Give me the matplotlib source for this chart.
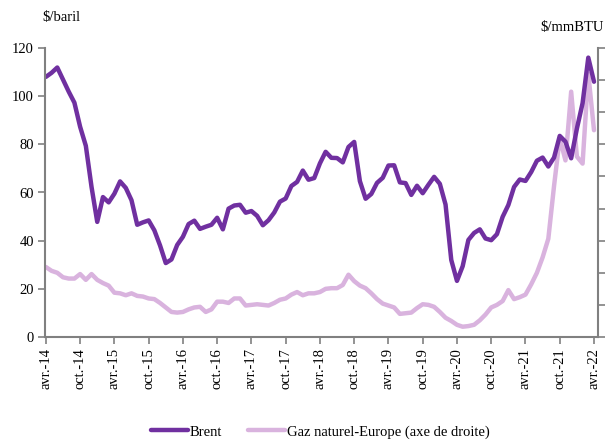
import matplotlib
matplotlib.use("Agg")
from matplotlib import pyplot as plt
import numpy as np

# monthly data, avr-14 .. avr-22
brent = [108.0, 109.7, 111.9, 106.9, 101.9, 97.3, 87.3, 79.4, 62.3,
         47.8, 58.1, 55.9, 59.5, 64.6, 61.9, 56.8, 46.6, 47.6, 48.4, 44.3, 38.0,
         30.7, 32.2, 38.2, 41.6, 46.9, 48.3, 44.9, 45.8, 46.6, 49.5, 44.7, 53.3,
         54.6, 54.9, 51.6, 52.3, 50.3, 46.4, 48.5, 51.7, 56.2, 57.5, 62.7, 64.4,
         69.1, 65.3, 66.0, 72.1, 76.9, 74.4, 74.3, 72.5, 78.9, 81.0, 64.7, 57.4,
         59.4, 64.0, 66.1, 71.2, 71.3, 64.2, 63.9, 59.0, 62.8, 59.7, 63.2, 66.5,
         63.6, 55.0, 32.0, 23.3, 29.4, 40.3, 43.2, 44.7, 40.9, 40.2, 42.7, 49.9,
         54.8, 62.3, 65.4, 64.8, 68.5, 73.2, 74.5, 70.8, 74.5, 83.5, 81.1, 74.2,
         86.5, 97.1, 116.0, 106.0]

gaz = [10.9, 10.3, 10.0, 9.3, 9.1, 9.1, 9.8, 8.9, 9.8,
       8.9, 8.4, 8.0, 6.9, 6.8, 6.5, 6.8, 6.4, 6.3, 6.0, 5.9, 5.3,
       4.6, 3.9, 3.8, 3.9, 4.3, 4.6, 4.7, 3.9, 4.3, 5.5, 5.5, 5.3,
       6.0, 6.0, 4.9, 5.0, 5.1, 5.0, 4.9, 5.3, 5.8, 6.0, 6.6, 7.0,
       6.5, 6.8, 6.8, 7.0, 7.5, 7.6, 7.6, 8.1, 9.7, 8.7, 8.0, 7.6,
       6.8, 5.9, 5.2, 4.9, 4.6, 3.6, 3.7, 3.8, 4.5, 5.1, 5.0, 4.7,
       3.9, 3.0, 2.5, 1.9, 1.6, 1.7, 1.9, 2.6, 3.5, 4.6, 5.0, 5.6,
       7.3, 5.9, 6.2, 6.6, 8.2, 10.0, 12.4, 15.3, 23.5, 31.0, 27.5, 38.2,
       28.1, 27.0, 41.0, 32.2]

tick_labels = ["avr.-14", "oct.-14", "avr.-15", "oct.-15", "avr.-16", "oct.-16",
               "avr.-17", "oct.-17", "avr.-18", "oct.-18", "avr.-19", "oct.-19",
               "avr.-20", "oct.-20", "avr.-21", "oct.-21", "avr.-22"]

plt.rcParams["font.family"] = ["Liberation Serif", "DejaVu Serif"]
plt.rcParams["font.size"] = 10.5

months = np.arange(len(brent))
grey = "#808080"

fig = plt.figure(figsize=(6.08, 4.44), dpi=100)
ax = fig.add_axes([45 / 608, 1 - 337 / 444, 553 / 608, 289 / 444])
ax2 = ax.twinx()

l2, = ax2.plot(months, gaz, color="#D9B3DE", lw=3.2, solid_capstyle="round",
               solid_joinstyle="round", label="Gaz naturel-Europe (axe de droite)")
l1, = ax.plot(months, brent, color="#7030A0", lw=3.2, solid_capstyle="round",
              solid_joinstyle="round", label="Brent")

# brent above gas
ax.set_zorder(ax2.get_zorder() + 1)
ax.patch.set_visible(False)

ax.set_xlim(-0.15, 96.7)
ax.set_ylim(0, 120)
ax.set_yticks(range(0, 121, 20))
ax2.set_ylim(0, 45)
ax2.set_yticks(range(0, 46, 5))
ax2.set_yticklabels([])

ax.set_xticks(range(0, 97, 6))
ax.set_xticklabels(tick_labels, rotation=90)

for a in (ax, ax2):
    a.spines["top"].set_visible(False)
    for s in ("left", "right", "bottom"):
        a.spines[s].set_color(grey)
        a.spines[s].set_linewidth(1.5)
    a.tick_params(color=grey, width=1.2, length=5, direction="out")
ax.spines["right"].set_visible(False)
ax2.spines["left"].set_visible(False)
ax2.spines["bottom"].set_visible(False)
ax.tick_params(axis="y", pad=3)
ax.tick_params(axis="x", pad=3)

fig.text(42 / 608, 1 - 18 / 444, "$/baril", ha="left", va="center")
fig.text(540 / 608, 1 - 27 / 444, "$/mmBTU", ha="left", va="center")

fig.legend(handles=[l1, l2], loc="center", bbox_to_anchor=(0.527, 1 - 432 / 444),
           ncol=2, frameon=False, handlelength=2.5, handletextpad=0.15,
           columnspacing=1.8)

fig.savefig("out.png", dpi=100)
